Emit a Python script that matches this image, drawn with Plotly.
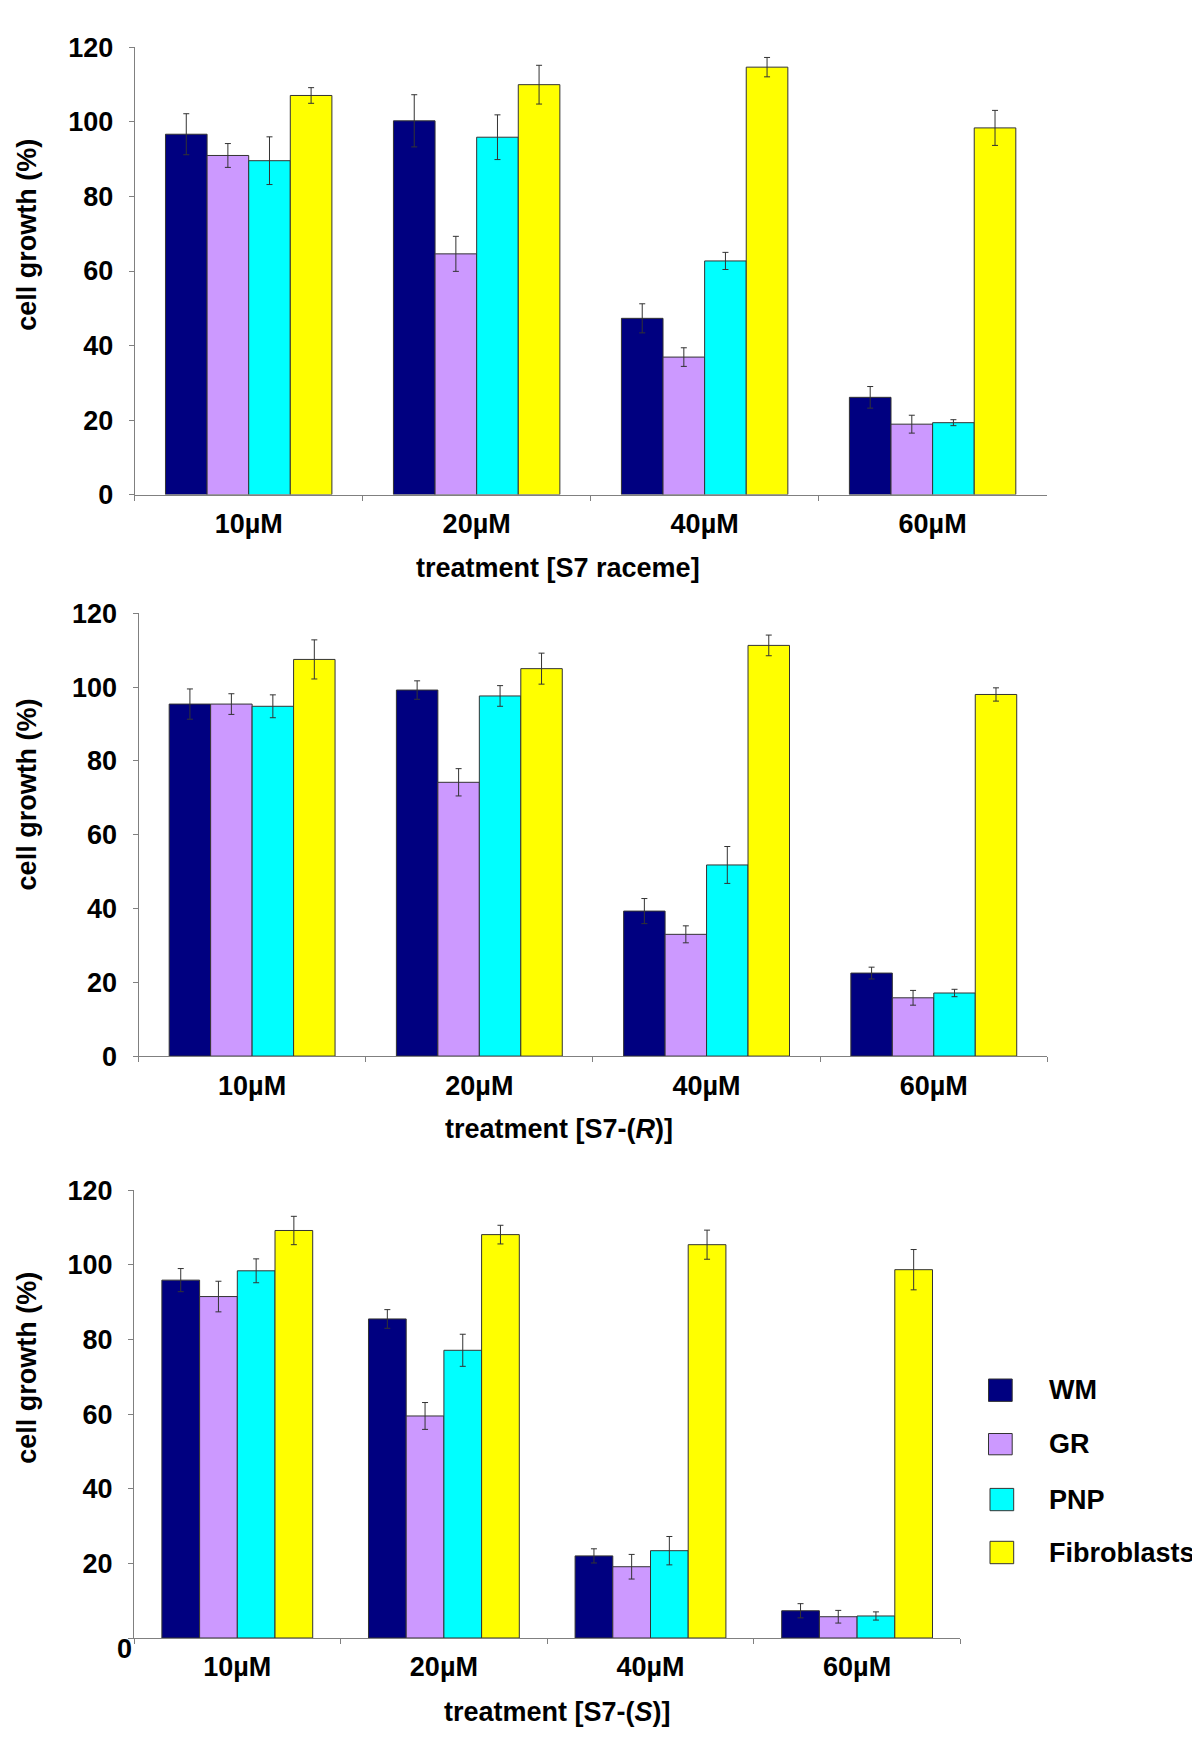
import plotly.graph_objects as go

W, H = 1200, 1745
OFF = 8  # page body margin offset

categories = ["10µM", "20µM", "40µM", "60µM"]
series_names = ["WM", "GR", "PNP", "Fibroblasts"]
colors = ["#000080", "#CC99FF", "#00FFFF", "#FFFF00"]

# Panel 1: S7 raceme
p1_WM = [96.7, 100.3, 47.3, 26.1]
p1_GR = [91.0, 64.6, 36.9, 18.9]
p1_PNP = [89.6, 95.9, 62.7, 19.3]
p1_FIB = [107.1, 110.0, 114.7, 98.4]
p1_WM_err = [5.5, 7.0, 3.9, 2.9]
p1_GR_err = [3.2, 4.7, 2.5, 2.4]
p1_PNP_err = [6.4, 6.0, 2.3, 0.8]
p1_FIB_err = [2.1, 5.2, 2.6, 4.7]

# Panel 2: S7-(R)
p2_WM = [95.4, 99.2, 39.3, 22.5]
p2_GR = [95.4, 74.2, 33.0, 15.8]
p2_PNP = [94.8, 97.6, 51.8, 17.1]
p2_FIB = [107.5, 105.0, 111.3, 98.0]
p2_WM_err = [4.1, 2.5, 3.4, 1.6]
p2_GR_err = [2.8, 3.7, 2.3, 2.0]
p2_PNP_err = [3.1, 2.8, 5.0, 1.0]
p2_FIB_err = [5.3, 4.2, 2.8, 1.8]

# Panel 3: S7-(S)
p3_WM = [95.9, 85.5, 22.0, 7.3]
p3_GR = [91.5, 59.5, 19.1, 5.7]
p3_PNP = [98.4, 77.1, 23.4, 5.9]
p3_FIB = [109.2, 108.1, 105.4, 98.7]
p3_WM_err = [3.1, 2.5, 1.9, 1.9]
p3_GR_err = [4.1, 3.6, 3.3, 1.7]
p3_PNP_err = [3.2, 4.3, 3.8, 1.1]
p3_FIB_err = [3.8, 2.5, 3.9, 5.4]

y_ticks = [0, 20, 40, 60, 80, 100, 120]
x_titles = ["treatment [S7 raceme]", "treatment [S7-(<i>R</i>)]", "treatment [S7-(<i>S</i>)]"]
y_title = "cell growth (%)"

panels = [
    ([p1_WM, p1_GR, p1_PNP, p1_FIB], [p1_WM_err, p1_GR_err, p1_PNP_err, p1_FIB_err]),
    ([p2_WM, p2_GR, p2_PNP, p2_FIB], [p2_WM_err, p2_GR_err, p2_PNP_err, p2_FIB_err]),
    ([p3_WM, p3_GR, p3_PNP, p3_FIB], [p3_WM_err, p3_GR_err, p3_PNP_err, p3_FIB_err]),
]

# pixel boxes (left, right, top, bottom) on the screen
boxes = [
    (134.7, 1046.6, 47.4, 494.6),
    (138.5, 1047.4, 613.3, 1056.1),
    (134.0, 960.4, 1190.2, 1638.0),
]

FONT = "Liberation Sans, Arial, sans-serif"


def px(x):
    return (x - OFF) / W


def py(y):
    return 1 - (y - OFF) / H


fig = go.Figure()
layout = dict(
    width=W, height=H,
    margin=dict(l=0, r=0, t=0, b=0, pad=0, autoexpand=False),
    paper_bgcolor="white", plot_bgcolor="white",
    barmode="group", bargap=0.27, bargroupgap=0,
    showlegend=False,
    font=dict(family=FONT, size=27, color="black", weight="bold"),
)

annotations = []
shapes = []

for i, ((vals, errs), box) in enumerate(zip(panels, boxes)):
    xa = "x" if i == 0 else f"x{i+1}"
    ya = "y" if i == 0 else f"y{i+1}"
    for name, v, e, c in zip(series_names, vals, errs, colors):
        fig.add_trace(go.Bar(
            x=categories, y=v, name=name, xaxis=xa, yaxis=ya,
            marker=dict(color=c, line=dict(color="#333333", width=1)),
            error_y=dict(type="data", array=e, color="#333333", thickness=1, width=3),
            showlegend=False,
        ))
    l, r, t, b = box
    ticktext = [str(v) for v in y_ticks]
    if i == 2:
        ticktext[0] = ""
    layout["xaxis" if i == 0 else f"xaxis{i+1}"] = dict(
        domain=[px(l), px(r)], anchor=ya, type="category", automargin=False,
        showline=True, linecolor="#808080", linewidth=1,
        ticks="outside", tickson="boundaries", ticklen=5, tickcolor="#808080",
        ticklabelstandoff=5,
        showgrid=False, tickfont=dict(family=FONT, size=27, color="black", weight="bold"),
    )
    layout["yaxis" if i == 0 else f"yaxis{i+1}"] = dict(
        domain=[py(b), py(t)], anchor=xa, range=[0, 120], automargin=False,
        tickvals=y_ticks, ticktext=ticktext,
        showline=True, linecolor="#808080", linewidth=1,
        ticks="outside", ticklen=5, tickcolor="#808080",
        ticklabelstandoff=10,
        showgrid=False, zeroline=False,
        tickfont=dict(family=FONT, size=27, color="black", weight="bold"),
    )

# axis titles
x_title_pos = [(557.8, 568.0), (558.5, 1129.4), (557.5, 1712.0)]
y_title_pos = [(26.8, 235.0), (26.8, 794.6), (26.8, 1368.0)]
for (tx, ty), txt in zip(x_title_pos, x_titles):
    annotations.append(dict(x=px(tx), y=py(ty), xref="paper", yref="paper", text=txt,
                            showarrow=False, xanchor="center", yanchor="middle",
                            font=dict(family=FONT, size=27, color="black", weight="bold")))
for (tx, ty) in y_title_pos:
    annotations.append(dict(x=px(tx), y=py(ty), xref="paper", yref="paper", text=y_title,
                            textangle=-90, showarrow=False, xanchor="center", yanchor="middle",
                            font=dict(family=FONT, size=27, color="black", weight="bold")))

# offset "0" label in panel 3
annotations.append(dict(x=px(124.4), y=py(1648.8), xref="paper", yref="paper", text="0",
                        showarrow=False, xanchor="center", yanchor="middle",
                        font=dict(family=FONT, size=27, color="black", weight="bold")))

# legend
leg_rows = [(1379.0, 1401.4, 988.5), (1433.5, 1454.8, 988.5), (1488.4, 1510.7, 990.0), (1541.3, 1563.7, 990.0)]
for (top, bot, lx), name, c in zip(leg_rows, series_names, colors):
    shapes.append(dict(type="rect", xref="paper", yref="paper",
                       x0=px(lx), x1=px(lx + 23.7), y0=py(bot), y1=py(top),
                       fillcolor=c, line=dict(color="#333333", width=1)))
    annotations.append(dict(x=px(1046.6), y=py((top + bot) / 2), xref="paper", yref="paper",
                            text=name, showarrow=False, xanchor="left", yanchor="middle",
                            font=dict(family=FONT, size=27, color="black", weight="bold")))

layout["annotations"] = annotations
layout["shapes"] = shapes
fig.update_layout(**layout)
fig.write_html("out.html")
